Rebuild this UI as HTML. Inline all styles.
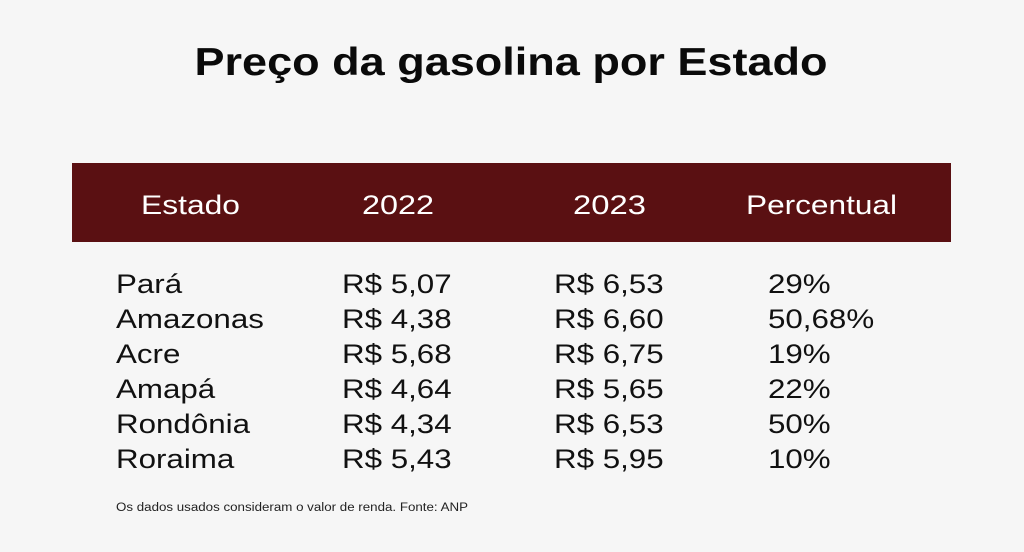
<!DOCTYPE html>
<html><head><meta charset="utf-8"><style>
html,body{margin:0;padding:0;background:#f6f6f6;}
svg{display:block;font-family:"Liberation Sans",sans-serif;}
</style></head><body>
<svg width="1024" height="552" viewBox="0 0 1024 552">
<rect x="0" y="0" width="1024" height="552" fill="#f6f6f6"/>
<text x="511" y="75" text-anchor="middle" font-size="39" font-weight="bold" fill="#0a0a0a" textLength="633" lengthAdjust="spacingAndGlyphs">Preço da gasolina por Estado</text>
<rect x="72" y="163" width="879" height="79" fill="#5a1012"/>
<g id="hdr" fill="#ffffff" font-size="27"></g>
<g id="rows" fill="#111111" font-size="27"></g>
<text x="116" y="511" font-size="11.5" fill="#222" textLength="352" lengthAdjust="spacingAndGlyphs">Os dados usados consideram o valor de renda. Fonte: ANP</text>
</svg>
<script>
const headers = ["Estado","2022","2023","Percentual"];
const states = ["Pará","Amazonas","Acre","Amapá","Rondônia","Roraima"];
const price2022 = ["R$ 5,07","R$ 4,38","R$ 5,68","R$ 4,64","R$ 4,34","R$ 5,43"];
const price2023 = ["R$ 6,53","R$ 6,60","R$ 6,75","R$ 5,65","R$ 6,53","R$ 5,95"];
const percent = ["29%","50,68%","19%","22%","50%","10%"];
const NS="http://www.w3.org/2000/svg";
const hx=[141,362,573,746], hw=[99,72,73,151];
const hg=document.getElementById('hdr');
headers.forEach((h,i)=>{
  const t=document.createElementNS(NS,'text');
  t.setAttribute('x',hx[i]);t.setAttribute('y',214);
  t.setAttribute('textLength',hw[i]);t.setAttribute('lengthAdjust','spacingAndGlyphs');
  t.textContent=h;
  
  
  hg.appendChild(t);
});
const rg=document.getElementById('rows');
const cols=[states,price2022,price2023,percent], cx=[116,342,554,768];
states.forEach((s,r)=>{
  cols.forEach((c,i)=>{
    const t=document.createElementNS(NS,'text');
    t.setAttribute('x',0);t.setAttribute('y',0);
    t.setAttribute('transform','translate('+cx[i]+','+(293+35*r)+') scale(1.16,1)');
    t.textContent=c[r];
    
    
    rg.appendChild(t);
  });
});
</script>
</body></html>
